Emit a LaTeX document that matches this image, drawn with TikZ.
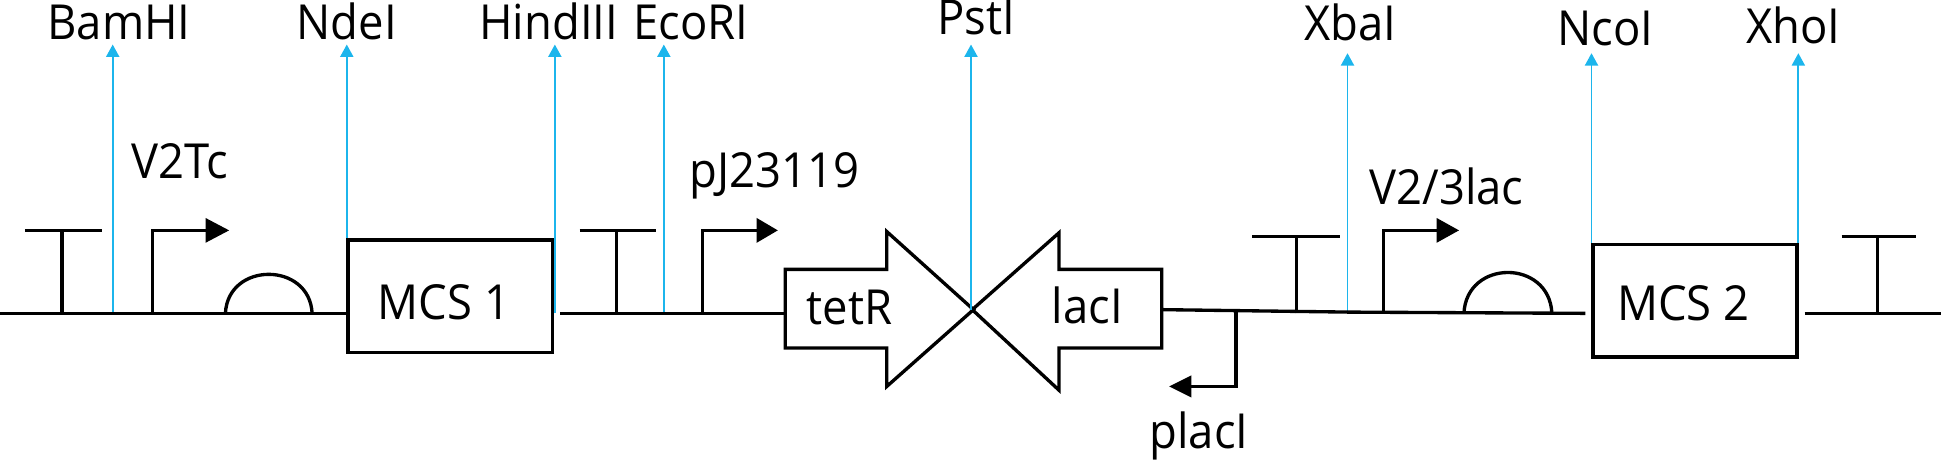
\documentclass[tikz,border=0pt]{standalone}
\usepackage{fontspec}
\usetikzlibrary{calc}
\setmainfont[FakeStretch=0.94]{Open Sans}
\definecolor{siteblue}{HTML}{1CB5EC}
\tikzset{
  x=1pt,y=-1pt,
  lab/.style={inner sep=0pt,anchor=base,font=\fontsize{39}{42}\selectfont,text=black},
  wire/.style={draw=black,line width=2.7pt},
  site/.style={draw=siteblue,line width=1.5pt},
  sitehead/.style={fill=siteblue,draw=none},
  boxpart/.style={draw=black,line width=3pt,fill=none,inner sep=0pt,minimum width=165pt,minimum height=91pt},
  headfill/.style={fill=black,draw=none}
}
\begin{document}
\begin{tikzpicture}
\useasboundingbox (0,0) rectangle (1568,373);
% labels
\node[lab] (bam) at (96,32) {BamHI};
\node[lab] (nde) at (280,31.5) {NdeI};
\node[lab] (hind) at (443,31.5) {HindIII};
\node[lab] (eco) at (558,31.5) {EcoRI};
\node[lab] (pst) at (788,28) {PstI};
\node[lab] (xba) at (1090,33) {XbaI};
\node[lab] (nco) at (1296,37) {NcoI};
\node[lab] (xho) at (1448,35) {XhoI};
\node[lab] (v2tc) at (145,144.5) {V2Tc};
\node[lab] (pj) at (625,151) {pJ23119};
\node[lab] (v23) at (1168,165) {V2/3lac};
\node[lab] (placl) at (968,362) {placI};
% coordinates
\coordinate (start) at (0,253);
\coordinate (end) at (1567,253);
\coordinate (a1) at (91,36); \coordinate (a1b) at (91,253);
\coordinate (a2) at (280,36); \coordinate (a2b) at (280,253);
\coordinate (a3) at (448,36); \coordinate (a3b) at (448,253);
\coordinate (a4) at (536,36); \coordinate (a4b) at (536,253);
\coordinate (a5) at (784,36); \coordinate (a5b) at (784,250);
\coordinate (a6) at (1088,43); \coordinate (a6b) at (1088,252);
\coordinate (a7) at (1285,43); \coordinate (a7b) at (1285,253);
\coordinate (a8) at (1452,43); \coordinate (a8b) at (1452,253);
% blue lines behind
\foreach \n in {a1,a2,a3,a4,a6,a7,a8}{
  \draw[site] (\n b) -- ($(\n)+(0,4)$);
  \fill[sitehead] (\n) -- ++(5.5,10) -- ++(-11,0) -- cycle;
}
% backbone
\coordinate (w1) at (280,253);
\coordinate (w2) at (452,253);
\coordinate (w3) at (633,253);
\coordinate (w4) at (938,250);
\coordinate (w5) at (1090,252);
\coordinate (w6) at (1280,253);
\coordinate (w7) at (1457,253);
\draw[wire] (start) -- (w1);
\draw[wire] (w2) -- (w3);
\draw[wire] (w4) -- (w5) -- (w6);
\draw[wire] (w7) -- (end);
% boxes
\node[boxpart] (mcs1) at (363.5,239) {};
\node[lab] (mcs1t) at (358.5,258) {MCS 1};
\node[boxpart] (mcs2) at (1368.5,243) {};
\node[lab] (mcs2t) at (1359,259) {MCS 2};
% terminators
\foreach \x/\y/\l/\r in {50/186/20/82, 498/186/468/530, 1047/191/1011/1082, 1516/191/1487/1547}{
  \draw[wire] (\x,253) -- (\x,\y);
  \draw[wire] (\l,\y) -- (\r,\y);
}
% promoters
\foreach \x/\y/\s/\e in {123/186/166/185, 567/186/611/628, 1117/186/1160/1178}{
  \draw[wire] (\x,252) -- (\x,\y) -- (\s,\y);
  \fill[headfill] (\s,\y-10) -- (\e,\y) -- (\s,\y+10) -- cycle;
}
% ribosome binding sites
\draw[wire] (182,253) .. controls (184,211) and (250,211) .. (252,253);
\draw[wire] (1182,253) .. controls (1184,209) and (1251,209) .. (1253,253);
% CDS arrows
\draw[wire,line join=miter] (634,217.5) -- (716,217.5) -- (716,187) -- (786,250) -- (716,312) -- (716,281) -- (634,281) -- cycle;
\draw[wire,line join=miter] (938,217.5) -- (855,217.5) -- (855,188) -- (785,250) -- (855,315) -- (855,281) -- (938,281) -- cycle;
\node[lab] (tetr) at (686,262) {tetR};
\node[lab] (laci) at (878,261) {lacI};
% placI
\draw[wire] (998,251) -- (998,312) -- (962,312);
\fill[headfill] (962,303) -- (944,312) -- (962,321) -- cycle;
% PstI in front
\draw[site] (a5b) -- ($(a5)+(0,4)$);
\fill[sitehead] (a5) -- ++(5.5,10) -- ++(-11,0) -- cycle;
\end{tikzpicture}
\end{document}
